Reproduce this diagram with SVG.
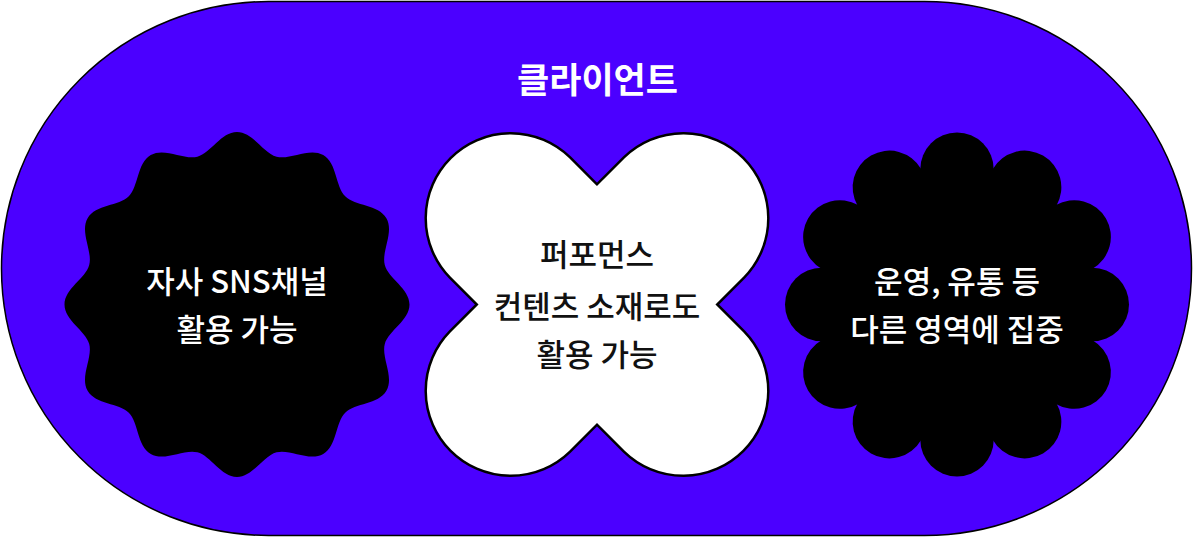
<svg xmlns="http://www.w3.org/2000/svg" width="1193" height="537" viewBox="0 0 1193 537">
  <style>
    .pill { fill: #4B00FF; stroke: #000000; stroke-width: 1.5; }
    .title { font-family: "Noto Sans CJK KR", "Noto Sans", sans-serif; font-size: 35px; font-weight: 700; fill: #FFFFFF; text-anchor: middle; }
    .label { font-family: "Noto Sans CJK KR", "Noto Sans", sans-serif; font-size: 31px; font-weight: 500; text-anchor: middle; }
    .light { fill: #FFFFFF; }
    .dark { fill: #111111; }
    .blob { fill: #000000; }
    .cross { fill: #FFFFFF; stroke: #000000; stroke-width: 2.5; stroke-linejoin: miter; }
  </style>
  <defs>
    <circle id="lobe" cx="135.3" cy="0" r="36.7"/>
  </defs>

  <g id="client">
    <rect class="pill" x="1.5" y="1.5" width="1190" height="534" rx="267" ry="267"/>
    <text class="title" x="597.5" y="93">클라이언트</text>
  </g>

  <g id="connectors"/>

  <g id="node-own-sns" transform="translate(237,304.5)">
    <path class="blob" d="M172.5,0 C172.5,16 151.41,26.08 147.79,39.6 C144.17,53.12 157.39,72.39 149.39,86.25 C141.39,100.11 118.09,98.29 108.19,108.19 C98.29,118.09 100.11,141.39 86.25,149.39 C72.39,157.39 53.12,144.17 39.6,147.79 C26.08,151.41 16,172.5 0,172.5 C-16,172.5 -26.08,151.41 -39.6,147.79 C-53.12,144.17 -72.39,157.39 -86.25,149.39 C-100.11,141.39 -98.29,118.09 -108.19,108.19 C-118.09,98.29 -141.39,100.11 -149.39,86.25 C-157.39,72.39 -144.17,53.12 -147.79,39.6 C-151.41,26.08 -172.5,16 -172.5,0 C-172.5,-16 -151.41,-26.08 -147.79,-39.6 C-144.17,-53.12 -157.39,-72.39 -149.39,-86.25 C-141.39,-100.11 -118.09,-98.29 -108.19,-108.19 C-98.29,-118.09 -100.11,-141.39 -86.25,-149.39 C-72.39,-157.39 -53.12,-144.17 -39.6,-147.79 C-26.08,-151.41 -16,-172.5 0,-172.5 C16,-172.5 26.08,-151.41 39.6,-147.79 C53.12,-144.17 72.39,-157.39 86.25,-149.39 C100.11,-141.39 98.29,-118.09 108.19,-108.19 C118.09,-98.29 141.39,-100.11 149.39,-86.25 C157.39,-72.39 144.17,-53.12 147.79,-39.6 C151.41,-26.08 172.5,-16 172.5,0 Z"/>
    <text class="label light" x="0" y="-11.5">자사 SNS채널</text>
    <text class="label light" x="0" y="36.5">활용 가능</text>
  </g>

  <g id="node-performance" transform="translate(597,304.5)">
    <path class="cross" d="M0,-120.21 L-26.9,-147.1 A85,85 0 0 0 -147.1,-26.9 L-120.21,0 L-147.1,26.9 A85,85 0 0 0 -26.9,147.1 L0,120.21 L26.9,147.1 A85,85 0 0 0 147.1,26.9 L120.21,0 L147.1,-26.9 A85,85 0 0 0 26.9,-147.1 Z"/>
    <text class="label dark" x="0" y="-38.5">퍼포먼스</text>
    <text class="label dark" x="0" y="13">컨텐츠 소재로도</text>
    <text class="label dark" x="0" y="61.5">활용 가능</text>
  </g>

  <g id="node-focus" transform="translate(957,304.5)">
    <g class="blob">
      <circle cx="0" cy="0" r="130"/>
      <use href="#lobe"/>
      <use href="#lobe" transform="rotate(30)"/>
      <use href="#lobe" transform="rotate(60)"/>
      <use href="#lobe" transform="rotate(90)"/>
      <use href="#lobe" transform="rotate(120)"/>
      <use href="#lobe" transform="rotate(150)"/>
      <use href="#lobe" transform="rotate(180)"/>
      <use href="#lobe" transform="rotate(210)"/>
      <use href="#lobe" transform="rotate(240)"/>
      <use href="#lobe" transform="rotate(270)"/>
      <use href="#lobe" transform="rotate(300)"/>
      <use href="#lobe" transform="rotate(330)"/>
    </g>
    <text class="label light" x="0" y="-11.5">운영, 유통 등</text>
    <text class="label light" x="0" y="36.5">다른 영역에 집중</text>
  </g>
</svg>
